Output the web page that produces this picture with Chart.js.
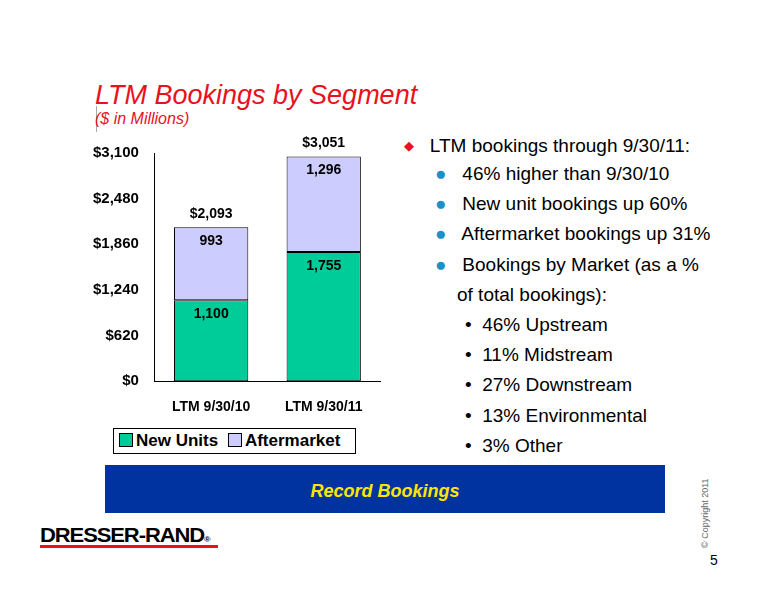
<!DOCTYPE html>
<html>
<head>
<meta charset="UTF-8">
<style>
  body{margin:0;width:776px;height:600px;position:relative;background:#fff;font-family:"Liberation Sans",Arial,sans-serif;overflow:hidden}
  .abs{position:absolute}
  #title{left:95px;top:80px;color:#e8121c;font-style:italic;font-size:27px}
  #sub{left:95px;top:110px;color:#e8121c;font-style:italic;font-size:16px}
  #vline{left:96px;top:106px;width:1px;height:26px;background:#aaa}
  #chartbox{left:85px;top:128px;width:305px;height:298px}
  #legend{left:113px;top:428px;width:241px;height:24px;border:1px solid #000;font-weight:bold;font-size:17px;line-height:24px}
  .sw{display:inline-block;width:12px;height:12px;border:1px solid #000;vertical-align:-1px;margin:0 3px 0 5px}
  .txt{font-size:19px;color:#000}
  #band{left:105px;top:465px;width:560px;height:48px;background:#0033a0;color:#ffe600;font-weight:bold;font-style:italic;font-size:18px;text-align:center;line-height:52px}
  #logo{left:40px;top:524px;font-weight:900;font-size:20px;letter-spacing:-1px;transform:scaleX(1.1);transform-origin:left}
  #logoline{left:40px;top:545px;width:178px;height:3px;background:#e8121c}
  #copy{left:700px;top:548px;font-size:9px;color:#666;transform:rotate(-90deg);transform-origin:left top}
  #page{left:710px;top:552px;font-size:14px}
</style>
</head>
<body>
<div id="title" class="abs">LTM Bookings by Segment</div>
<div id="vline" class="abs"></div>
<div id="sub" class="abs">($ in Millions)</div>
<div id="chartbox" class="abs"><canvas id="chart"></canvas></div>
<div id="legend" class="abs"><span class="sw" style="background:#00cc99"></span>New Units <span class="sw" style="background:#ccccff"></span>Aftermarket</div>

<div class="abs txt" style="left:404px;top:135px"><span style="color:#e8121c;font-size:13px;position:relative;top:-2px">&#9670;</span>&nbsp;&nbsp;&nbsp;LTM bookings through 9/30/11:</div>
<div class="abs txt" style="left:435px;top:159px;line-height:30.2px">
  <div><span style="color:#1e90c8">&#9679;</span>&nbsp;&nbsp; 46% higher than 9/30/10</div>
  <div><span style="color:#1e90c8">&#9679;</span>&nbsp;&nbsp; New unit bookings up 60%</div>
  <div><span style="color:#1e90c8">&#9679;</span>&nbsp;&nbsp; Aftermarket bookings up 31%</div>
  <div><span style="color:#1e90c8">&#9679;</span>&nbsp;&nbsp; Bookings by Market (as a %</div>
  <div style="padding-left:22px">of total bookings):</div>
  <div style="padding-left:30px">&bull;&nbsp; 46% Upstream</div>
  <div style="padding-left:30px">&bull;&nbsp; 11% Midstream</div>
  <div style="padding-left:30px">&bull;&nbsp; 27% Downstream</div>
  <div style="padding-left:30px">&bull;&nbsp; 13% Environmental</div>
  <div style="padding-left:30px">&bull;&nbsp; 3% Other</div>
</div>

<div id="band" class="abs">Record Bookings</div>
<div id="logo" class="abs">DRESSER-RAND<span style="font-size:8px">&reg;</span></div>
<div id="logoline" class="abs"></div>
<div id="copy" class="abs">&copy; Copyright 2011</div>
<div id="page" class="abs">5</div>

<script src="https://cdn.jsdelivr.net/npm/chart.js@4/dist/chart.umd.min.js"></script>
<script>
const periods = ['LTM 9/30/10', 'LTM 9/30/11'];
const newUnits = [1100, 1755];
const aftermarket = [993, 1296];
const totals = [2093, 3051];
const yTicks = [0, 620, 1240, 1860, 2480, 3100];

const fmt = v => v.toLocaleString('en-US');

const labelPlugin = {
    id: 'labels',
    afterDatasetsDraw(chart) {
        const ctx = chart.ctx;
        ctx.save();
        ctx.font = 'bold 14px "Liberation Sans", Arial';
        ctx.fillStyle = '#000';
        ctx.textAlign = 'center';
        ctx.textBaseline = 'top';
        chart.data.datasets.forEach((ds, di) => {
            chart.getDatasetMeta(di).data.forEach((bar, i) => {
                ctx.fillText(fmt(ds.data[i]), bar.x, bar.y + 7);
            });
        });
        const top = chart.getDatasetMeta(1).data;
        ctx.textBaseline = 'bottom';
        top.forEach((bar, i) => {
            ctx.fillText('$' + fmt(totals[i]), bar.x, bar.y - 6);
        });
        ctx.restore();
    }
};

new Chart(document.getElementById('chart'), {
    type: 'bar',
    data: {
        labels: periods,
        datasets: [
            {label: 'New Units', data: newUnits, backgroundColor: '#00cc99', borderColor: '#000', borderWidth: 1, borderSkipped: false},
            {label: 'Aftermarket', data: aftermarket, backgroundColor: '#ccccff', borderColor: '#000', borderWidth: 1, borderSkipped: false}
        ]
    },
    options: {
        responsive: true,
        maintainAspectRatio: false,
        animation: false,
        layout: {padding: {top: 25, right: 10}},
        plugins: {legend: {display: false}, tooltip: {enabled: false}},
        datasets: {bar: {barPercentage: 0.66, categoryPercentage: 1}},
        scales: {
            x: {
                stacked: true,
                grid: {display: false},
                border: {color: '#000'},
                ticks: {color: '#000', font: {weight: 'bold', size: 14, family: '"Liberation Sans", Arial'}, padding: 10}
            },
            y: {
                stacked: true,
                min: 0, max: 3100,
                afterBuildTicks: axis => { axis.ticks = yTicks.map(v => ({value: v})); },
                grid: {display: false, drawTicks: true},
                border: {color: '#000'},
                ticks: {color: '#000', font: {weight: 'bold', size: 15, family: '"Liberation Sans", Arial'}, callback: v => '$' + fmt(v), padding: 8}
            }
        }
    },
    plugins: [labelPlugin]
});
</script>
</body>
</html>
